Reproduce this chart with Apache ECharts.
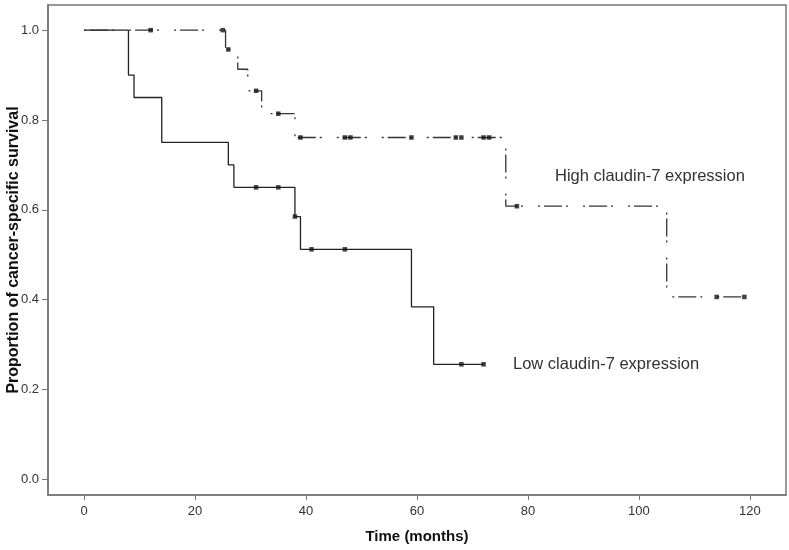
<!DOCTYPE html>
<html><head><meta charset="utf-8">
<script src="https://cdn.jsdelivr.net/npm/echarts@6/dist/echarts.min.js"></script>
<style>html,body{margin:0;padding:0;background:#fff}#c{width:789px;height:550px}</style>
</head><body><div id="c"></div>
<script>
// Tick labels
const xTicks = [0, 20, 40, 60, 80, 100, 120];
const yTicks = [0.0, 0.2, 0.4, 0.6, 0.8, 1.0];

// Low claudin-7 expression (solid) – step points (time, survival)
const lowTimes = [0, 8, 9, 14, 26, 27, 38, 39, 59, 63, 72];
const lowSurv  = [1.0, 0.9, 0.85, 0.75, 0.70, 0.65, 0.585, 0.512, 0.384, 0.256, 0.256];
const lowCensorTimes = [31, 35, 38, 41, 47, 68, 72];
const lowCensorSurv  = [0.65, 0.65, 0.585, 0.512, 0.512, 0.256, 0.256];

// High claudin-7 expression (dash-dot)
const highTimes = [0, 25.5, 27.7, 29.5, 32, 38, 76, 105, 119];
const highSurv  = [1.0, 0.957, 0.913, 0.865, 0.814, 0.761, 0.608, 0.406, 0.406];
const highCensorTimes = [12, 25, 26, 31, 35, 39, 47, 48, 59, 67, 68, 72, 73, 78, 114, 119];
const highCensorSurv  = [1.0, 1.0, 0.957, 0.865, 0.814, 0.761, 0.761, 0.761, 0.761, 0.761, 0.761, 0.761, 0.761, 0.608, 0.406, 0.406];

const labels = ['High claudin-7 expression', 'Low claudin-7 expression'];

const zip = (a, b) => a.map((v, i) => [v, b[i]]);
const tickFont = "'Liberation Sans Narrow','Arial Narrow','Liberation Sans',Arial,sans-serif";
const mainFont = "'Liberation Sans',Arial,sans-serif";

const chart = echarts.init(document.getElementById('c'));
chart.setOption({
  animation: false,
  backgroundColor: '#fff',
  grid: { left: 48, right: 3, top: 5, bottom: 55, show: true, borderColor: '#777', borderWidth: 1.5,
          containLabel: false, outerBoundsMode: 'none' },
  xAxis: {
    type: 'value', min: -6.5, max: 126.5,
    name: 'Time (months)', nameLocation: 'middle', nameGap: 34, nameMoveOverlap: false,
    nameTextStyle: { fontFamily: mainFont, fontWeight: 'bold', fontSize: 15, color: '#111' },
    axisLine: { show: true, onZero: false, lineStyle: { color: '#777', width: 1.5 } },
    axisTick: { show: true, length: 5, lineStyle: { color: '#777' }, customValues: xTicks },
    axisLabel: { fontFamily: tickFont, fontSize: 13, color: '#333', margin: 10, customValues: xTicks },
    splitLine: { show: false }
  },
  yAxis: {
    type: 'value', min: -0.035, max: 1.056,
    name: 'Proportion of cancer-specific survival', nameLocation: 'middle', nameGap: 26, nameMoveOverlap: false,
    nameTextStyle: { fontFamily: mainFont, fontWeight: 'bold', fontSize: 16, color: '#111' },
    axisLine: { show: true, onZero: false, lineStyle: { color: '#777', width: 1.5 } },
    axisTick: { show: true, length: 6, lineStyle: { color: '#777' }, customValues: yTicks },
    axisLabel: { fontFamily: tickFont, fontSize: 13, color: '#333', margin: 9,
      formatter: v => v.toFixed(1), customValues: yTicks },
    splitLine: { show: false }
  },
  graphic: [
    { type: 'text', left: 555, top: 168, style: { text: labels[0], fontFamily: mainFont, fontSize: 16.5, fill: '#333' } },
    { type: 'text', left: 513, top: 356, style: { text: labels[1], fontFamily: mainFont, fontSize: 16.5, fill: '#333' } }
  ],
  series: [
    { type: 'line', step: 'end', data: zip(lowTimes, lowSurv), showSymbol: false,
      lineStyle: { color: '#222', width: 1.3 }, z: 3 },
    { type: 'line', step: 'end', data: zip(highTimes, highSurv), showSymbol: false,
      lineStyle: { color: '#333', width: 1.3, type: [2, 4, 18, 4, 2, 15] }, z: 4 },
    { type: 'scatter', data: zip(lowCensorTimes, lowCensorSurv), symbol: 'rect', symbolSize: 4.5,
      itemStyle: { color: '#111' }, z: 5 },
    { type: 'scatter', data: zip(highCensorTimes, highCensorSurv), symbol: 'rect', symbolSize: 4.5,
      itemStyle: { color: '#111' }, z: 5 }
  ]
});
</script>
</body></html>
